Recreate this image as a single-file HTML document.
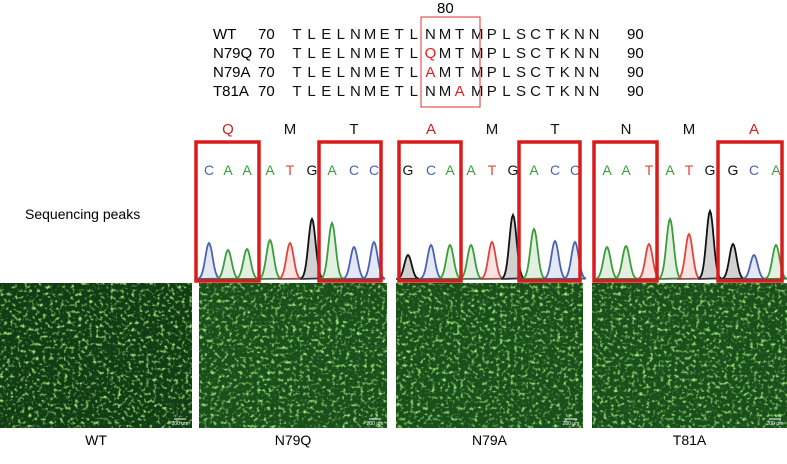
<!DOCTYPE html>
<html><head><meta charset="utf-8"><style>
body{margin:0;background:#fff;width:787px;height:459px;overflow:hidden;font-family:"Liberation Sans",sans-serif}
svg text{font-family:"Liberation Sans",sans-serif}
</style></head><body>
<svg id="fig" width="787" height="459" viewBox="0 0 787 459" xmlns="http://www.w3.org/2000/svg">
<defs>
<filter id="speck" x="0" y="0" width="100%" height="100%">
<feTurbulence type="fractalNoise" baseFrequency="0.28" numOctaves="2" seed="3" result="n"/>
<feColorMatrix in="n" type="matrix" values="0 0 0 0 0.35  0 0 0 0 0.85  0 0 0 0 0.2  0 3.5 0 0 -1.85" result="g"/>
<feComposite in="g" in2="SourceGraphic" operator="in"/>
</filter>
</defs>
<g id="seq"></g>
<g id="chrom"></g>
<g id="micro"></g>
<text x="25" y="219" font-size="14">Sequencing peaks</text>
</svg>
<script>
const NS="http://www.w3.org/2000/svg";
function mk(t,a,p){const e=document.createElementNS(NS,t);for(const k in a)e.setAttribute(k,a[k]);p.appendChild(e);return e;}
// sequence alignment
const rowNames=["WT","N79Q","N79A","T81A"];
const rowSeqs=["TLELNMETLNMTMPLSCTKNN","TLELNMETLQMTMPLSCTKNN","TLELNMETLAMTMPLSCTKNN","TLELNMETLNMAMPLSCTKNN"];
const mutPos=[-1,9,9,11];
const seqG=document.getElementById('seq');
rowNames.forEach((n,r)=>{
  const y=39+r*19;
  let t=mk('text',{x:213,y:y,'font-size':15},seqG);t.textContent=n;
  
  
  t=mk('text',{x:258,y:y,'font-size':15},seqG);t.textContent="70";
  for(let i=0;i<rowSeqs[r].length;i++){
    const x=297+i*14.6+(i>=9?2:0)+(i>=12?3:0);
    const c=mk('text',{x:x,y:y,'font-size':15,'text-anchor':'middle',fill:i===mutPos[r]?'#e02020':'#111'},seqG);
    c.textContent=rowSeqs[r][i];
  }
  t=mk('text',{x:627,y:y,'font-size':15},seqG);t.textContent="90";
});
let t80=mk('text',{x:437,y:13,'font-size':15},seqG);t80.textContent="80";
mk('rect',{x:421,y:17,width:59,height:90,fill:'none',stroke:'#e03030','stroke-width':1},seqG);

// chromatograms
const aaLabels=[["Q","M","T"],["A","M","T"],["N","M","A"]];
const aaRed=[[1,0,0],[1,0,0],[0,0,1]];
const bases=["CAAATGACC","GCAATGACC","AATATGGCA"];
const heights=[[36,29,30,39,36,60,56,32,37],[24,34,34,34,37,64,50,38,37],[32,33,35,60,45,68,35,24,34]];
const baseX=[[209,228,247,270,290,312,332,354,374],[408,431,450,471,492,513,534,555,575],[607,626,649,670,689,710,733,754,776]];
const boxes=[[[196,259],[319,381]],[[399,461],[519,580]],[[594,657],[718,782]]];
const col={A:'#3c9c3c',C:'#4a62b4',G:'#111',T:'#e2443c'};
const fillc={A:'rgba(60,156,60,0.15)',C:'rgba(74,98,180,0.15)',G:'rgba(0,0,0,0.18)',T:'rgba(226,68,60,0.15)'};
const base=279;
const ch=document.getElementById('chrom');
for(let p=0;p<3;p++){
  for(let k=0;k<3;k++){
    const lx=baseX[p][k*3+1];
    const a=mk('text',{x:lx,y:134,'font-size':15,'text-anchor':'middle',fill:aaRed[p][k]?'#d02020':'#111'},ch);
    a.textContent=aaLabels[p][k];
    
    
  }
  for(let i=0;i<9;i++){
    const b=bases[p][i],x=baseX[p][i],h=heights[p][i];
    const l=mk('text',{x:x,y:175,'font-size':14,'text-anchor':'middle',fill:col[b]},ch);
    l.textContent=b;
    let d=`M${x-11},${base}`;
    for(let dx=-11;dx<=11;dx++){d+=` L${x+dx},${(base-h*Math.exp(-dx*dx/26)).toFixed(1)}`;}
    const pk=mk('path',{d:d+' Z',fill:fillc[b],stroke:col[b],'stroke-width':1.8},ch);
    
    
  }
  mk('line',{x1:baseX[p][0]-12,x2:baseX[p][8]+10,y1:base,y2:base,stroke:'#555','stroke-width':1},ch);
  boxes[p].forEach(bx=>{
    const r=mk('rect',{x:bx[0],y:142,width:bx[1]-bx[0],height:139,fill:'none',stroke:'#d81c1c','stroke-width':3.5},ch);
    
    
  });
}

// micrographs
const microNames=["WT","N79Q","N79A","T81A"];
const microX=[[0,192],[199,387],[396,583],[592,787]];
const mg=document.getElementById('micro');
microNames.forEach((n,i)=>{
  const g=mk('g',{},mg);
  
  
  const w=microX[i][1]-microX[i][0];
  mk('rect',{x:microX[i][0],y:283,width:w,height:145,fill:i===0?'#123c14':'#1a4f1b'},g);
  mk('rect',{x:microX[i][0],y:283,width:w,height:145,fill:'#fff',filter:'url(#speck)'},g);
  mk('line',{x1:microX[i][1]-18,x2:microX[i][1]-6,y1:419,y2:419,stroke:'#fff','stroke-width':1},g);
  const s=mk('text',{x:microX[i][1]-12,y:425,'font-size':5,fill:'#fff','text-anchor':'middle'},g);s.textContent="200 μm";
  const l=mk('text',{x:(microX[i][0]+microX[i][1])/2,y:445,'font-size':14,'text-anchor':'middle'},mg);
  l.textContent=n;
  
  
});
</script>
</body></html>
